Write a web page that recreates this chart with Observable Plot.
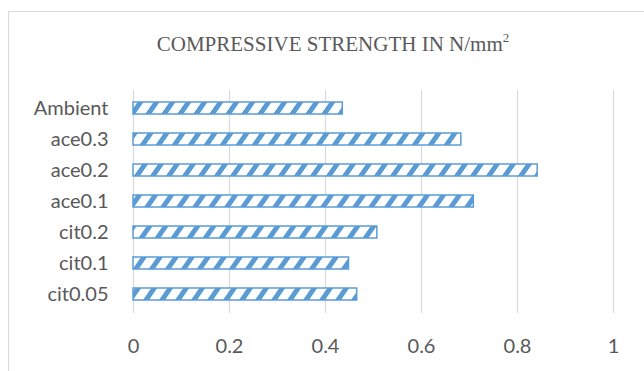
<!DOCTYPE html>
<html><head><meta charset="utf-8">
<script src="https://cdn.jsdelivr.net/npm/d3@7"></script>
<script src="https://cdn.jsdelivr.net/npm/@observablehq/plot@0.6"></script>
<style>
body{margin:0;background:#fff;width:644px;height:371px;overflow:hidden;position:relative;}
#frame{position:absolute;left:8px;top:11px;width:700px;height:420px;border-left:1px solid #d9d9d9;border-top:1px solid #d9d9d9;}
#title{position:absolute;left:22px;top:0;width:622px;height:70px;line-height:88px;text-align:center;font-family:"Liberation Serif","Times New Roman",serif;font-size:21px;color:#595959;white-space:nowrap;}
#title sup{font-size:13px;vertical-align:0;position:relative;top:-9px;line-height:0;}
#chart{position:absolute;left:0;top:70px;}
</style></head>
<body>
<div id="frame"></div>
<div id="title">COMPRESSIVE STRENGTH IN N/mm<sup>2</sup></div>
<div id="chart"></div>
<script>
const categories = ["Ambient", "ace0.3", "ace0.2", "ace0.1", "cit0.2", "cit0.1", "cit0.05"];
const values = [0.436, 0.683, 0.842, 0.709, 0.508, 0.449, 0.466];
const xTicks = [0, 0.2, 0.4, 0.6, 0.8, 1];
const xTickLabels = ["0", "0.2", "0.4", "0.6", "0.8", "1"];

const data = categories.map((c, i) => ({category: c, value: values[i]}));

const plot = Plot.plot({
  width: 644,
  height: 301,
  marginTop: 20,
  marginBottom: 58,
  marginLeft: 133,
  marginRight: 31,
  style: {fontFamily: "Lato, 'Open Sans', sans-serif", fontSize: "20px", color: "#595959", background: "transparent", overflow: "visible"},
  x: {domain: [0, 1], label: null},
  y: {domain: categories, paddingInner: 0.6, paddingOuter: 0.3, label: null},
  marks: [
    Plot.ruleX(xTicks, {stroke: "#d9d9d9", strokeWidth: 1.2}),
    Plot.barX(data, {y: "category", x: "value", fill: "url(#stripes)", stroke: "#5B9BD5", strokeWidth: 1.5}),
    Plot.axisX({ticks: xTicks, tickSize: 0, tickPadding: 25, tickFormat: (d) => xTickLabels[xTicks.indexOf(d)], label: null}),
    Plot.axisY({tickSize: 0, tickPadding: 25, label: null})
  ]
});

d3.select(plot).insert("defs", ":first-child").html(
  '<pattern id="stripes" patternUnits="userSpaceOnUse" width="16" height="16" patternTransform="skewX(-35)">' +
  '<rect width="16" height="16" fill="#ffffff"/><rect width="6" height="16" fill="#5B9BD5"/></pattern>'
);

document.getElementById("chart").appendChild(plot);
</script>
</body></html>
